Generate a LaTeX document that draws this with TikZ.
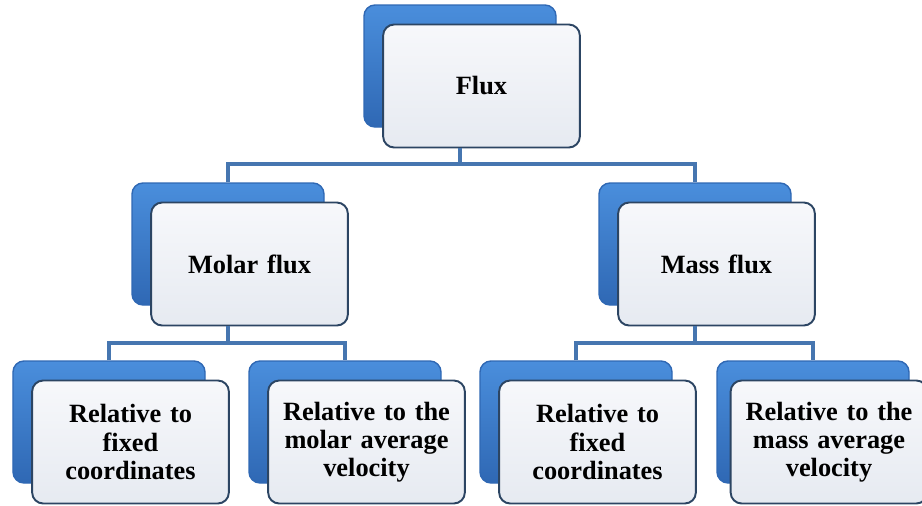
\documentclass[tikz,border=0pt]{standalone}
\usepackage{fontspec}
\setmainfont{Liberation Serif}[BoldFont={Liberation Serif Bold}]
\usetikzlibrary{positioning}
\definecolor{backblue}{HTML}{4A8EDC}
\definecolor{backdark}{HTML}{2F68B4}
\definecolor{faceline}{HTML}{2C4563}
\definecolor{facetop}{HTML}{F7F8FB}
\definecolor{facebot}{HTML}{E6EAF1}
\definecolor{linkblue}{HTML}{4676B0}

\tikzset{
  backbox/.style={draw=backdark,line width=0.8pt,rounded corners=0.22cm,
    top color=backblue,bottom color=backdark,
    minimum width=3.84cm,minimum height=2.44cm},
  facebox/.style={draw=faceline,line width=1.1pt,rounded corners=0.22cm,
    top color=facetop,bottom color=facebot,
    minimum width=3.9cm,minimum height=2.46cm,
    text width=3.7cm,align=center,
    font=\fontsize{15}{16}\selectfont\bfseries},
  link/.style={linkblue,line width=2.6pt}
}

\begin{document}
\begin{tikzpicture}
  \useasboundingbox (0,0) rectangle (18.44,-10.1);
  % Level 1
  \node[backbox] (fluxback) at (9.2,-1.32) {};
  \node[facebox,xshift=0.43cm,yshift=-0.4cm] (flux) at (fluxback) {Flux};
  % Level 2
  \node[backbox] (molarback) at (4.56,-4.88) {};
  \node[facebox,xshift=0.43cm,yshift=-0.4cm] (molar) at (molarback) {Molar flux};
  \node[backbox] (massback) at (13.9,-4.88) {};
  \node[facebox,xshift=0.43cm,yshift=-0.4cm] (mass) at (massback) {Mass flux};
  % Level 3
  \node[backbox] (molfixback) at (2.18,-8.44) {};
  \node[facebox,xshift=0.43cm,yshift=-0.4cm] (molfix) at (molfixback) {Relative to\\fixed\\coordinates};
  \node[backbox] (molavgback) at (6.9,-8.44) {};
  \node[facebox,xshift=0.43cm,yshift=-0.4cm] (molavg) at (molavgback) {Relative to the\\molar average\\velocity};
  \node[backbox] (masfixback) at (11.52,-8.44) {};
  \node[facebox,xshift=0.43cm,yshift=-0.4cm] (masfix) at (masfixback) {Relative to\\fixed\\coordinates};
  \node[backbox] (masavgback) at (16.26,-8.44) {};
  \node[facebox,xshift=0.32cm,yshift=-0.4cm,minimum width=3.72cm] (masavg) at (masavgback) {Relative to the\\mass average\\velocity};
  % Connectors
  \coordinate (busA) at (9.2,-3.28);
  \coordinate (busB) at (4.56,-6.86);
  \coordinate (busC) at (13.9,-6.86);
  \draw[link] (flux.south -| fluxback) -- (busA);
  \draw[link] (molarback.north) |- (busA) -| (massback.north);
  \draw[link] (molar.south -| molarback) -- (busB);
  \draw[link] (molfixback.north) |- (busB) -| (molavgback.north);
  \draw[link] (mass.south -| massback) -- (busC);
  \draw[link] (masfixback.north) |- (busC) -| (masavgback.north);
\end{tikzpicture}
\end{document}
